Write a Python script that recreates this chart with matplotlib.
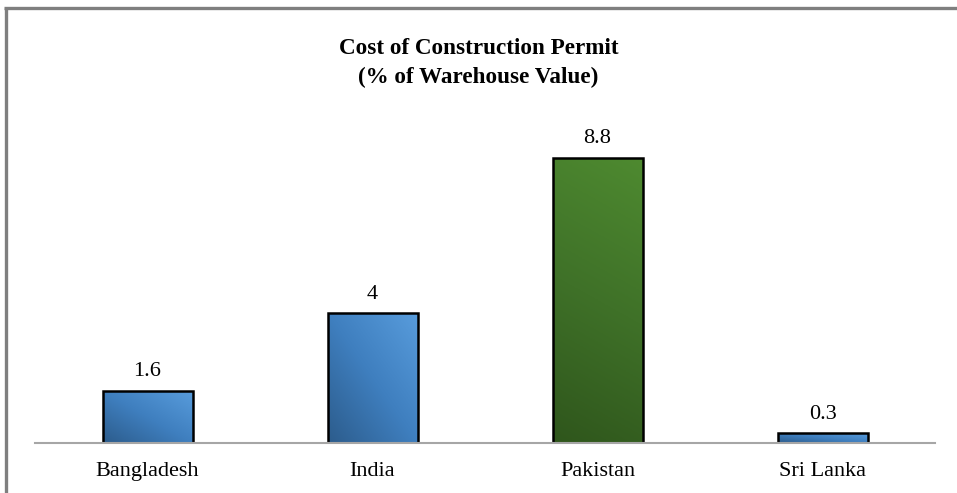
import numpy as np
import matplotlib
matplotlib.use("Agg")
import matplotlib.pyplot as plt
from matplotlib.lines import Line2D
from matplotlib.colors import LinearSegmentedColormap

# Chart data
countries = ['Bangladesh', 'India', 'Pakistan', 'Sri Lanka']
cost_pct = [1.6, 4, 8.8, 0.3]
value_labels = ['1.6', '4', '8.8', '0.3']
highlight = 'Pakistan'

plt.rcParams['font.family'] = ['Liberation Serif', 'DejaVu Serif']

fig = plt.figure(figsize=(9.57, 4.93), dpi=100)
ax = fig.add_axes([35 / 957, 50 / 493, 900 / 957, 324 / 493])

blue_cmap = LinearSegmentedColormap.from_list('blue', ['#2c5c8c', '#3f7fbf', '#589cdc'])
green_cmap = LinearSegmentedColormap.from_list('green', ['#2f561c', '#3f7128', '#4e8a30'])

x = np.arange(len(countries))
bars = ax.bar(x, cost_pct, width=0.4, color='none', edgecolor='black', linewidth=1.8, zorder=3)

# diagonal gradient fill for each bar (dark bottom-left, light top-right)
gy, gx = np.mgrid[0:1:100j, 0:1:100j]
for bar, name in zip(bars, countries):
    x0, y0 = bar.get_x(), bar.get_y()
    w, h = bar.get_width(), bar.get_height()
    if name == highlight:
        grad = gy * 0.85 + gx * 0.15
        cmap = green_cmap
    else:
        grad = gy * 0.5 + gx * 0.5
        cmap = blue_cmap
    im = ax.imshow(grad, cmap=cmap, origin='lower', extent=[x0, x0 + w, y0, y0 + h],
                   aspect='auto', zorder=2, interpolation='bilinear')
    im.set_clip_path(bar)

for xi, v, lab in zip(x, cost_pct, value_labels):
    ax.annotate(lab, (xi, v), xytext=(0, 7), textcoords='offset points',
                ha='center', va='bottom', fontsize=16)

ax.set_xlim(-0.5, len(countries) - 0.5)
ax.set_ylim(0, 10)
ax.set_xticks(x)
ax.set_xticklabels(countries, fontsize=16)
ax.tick_params(axis='x', length=0, pad=14)
ax.set_yticks([])
for s in ['top', 'right', 'left']:
    ax.spines[s].set_visible(False)
ax.spines['bottom'].set_color('#a6a6a6')
ax.spines['bottom'].set_linewidth(1.5)
ax.spines['bottom'].set_zorder(4)

fig.text(0.5, 1 - 48 / 493, 'Cost of Construction Permit',
         ha='center', va='center', fontsize=16.7, fontweight='bold')
fig.text(0.5, 1 - 77 / 493, '(% of Warehouse Value)',
         ha='center', va='center', fontsize=16.7, fontweight='bold')

# gray frame (left and top edges visible in the crop)
fig.add_artist(Line2D([5.5 / 957, 5.5 / 957], [0, 1 - 7.5 / 493], color='#7f7f7f',
                      linewidth=2.4, transform=fig.transFigure, solid_capstyle='butt'))
fig.add_artist(Line2D([4.3 / 957, 1], [1 - 7.5 / 493, 1 - 7.5 / 493], color='#7f7f7f',
                      linewidth=2.4, transform=fig.transFigure, solid_capstyle='butt'))

fig.savefig('out.png', dpi=100)
